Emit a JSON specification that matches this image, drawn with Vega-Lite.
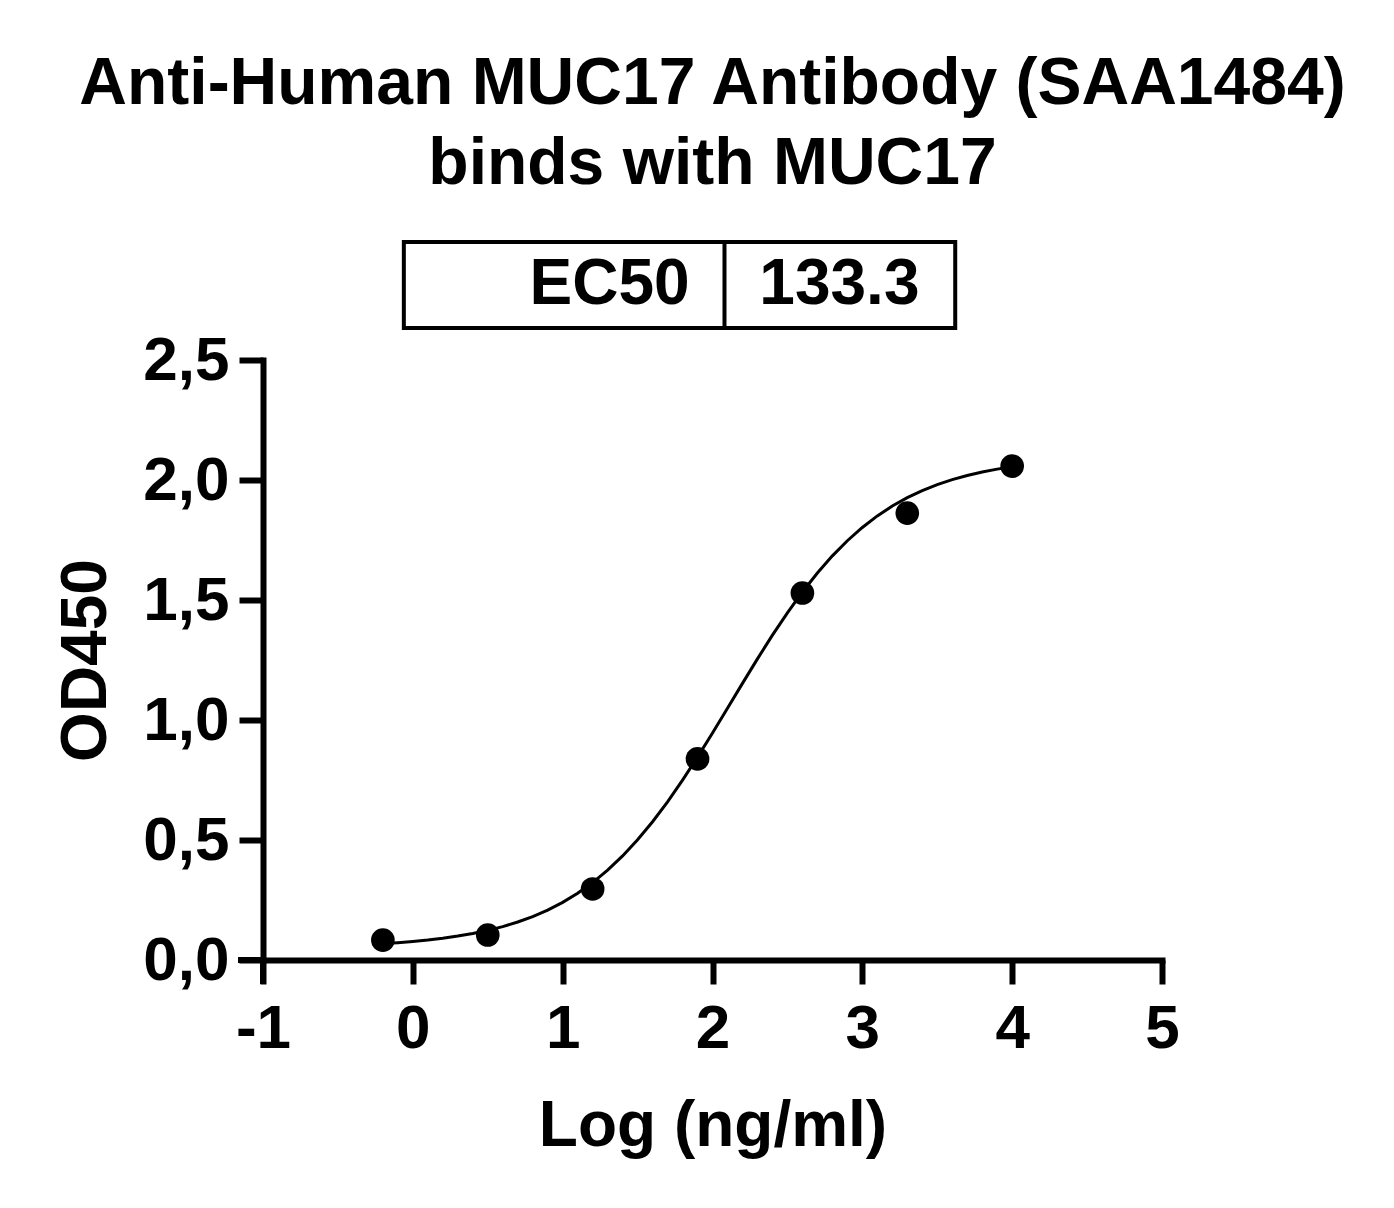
{
  "$schema": "https://vega.github.io/schema/vega-lite/v6.json",
  "width": 899,
  "height": 600,
  "autosize": {"type": "none"},
  "padding": {"left": 263, "top": 360, "right": 232, "bottom": 248},
  "background": "white",
  "title": {
    "text": ["Anti-Human MUC17 Antibody (SAA1484)", "binds with MUC17"],
    "font": "Liberation Sans",
    "fontWeight": "bold",
    "fontSize": 66,
    "lineHeight": 80,
    "color": "black",
    "anchor": "middle",
    "offset": 42
  },
  "config": {
    "view": {"stroke": null},
    "axis": {
      "grid": false,
      "domainColor": "black",
      "domainWidth": 6,
      "domainCap": "square",
      "tickColor": "black",
      "tickWidth": 6,
      "tickSize": 24,
      "labelColor": "black",
      "labelFont": "Liberation Sans",
      "labelFontWeight": "bold",
      "labelFontSize": 62,
      "titleColor": "black",
      "titleFont": "Liberation Sans",
      "titleFontWeight": "bold",
      "titleFontSize": 64
    }
  },
  "datasets": {
    "curve": [
      {"logc": -0.2, "od": 0.0683}, {"logc": -0.1, "od": 0.0723}, {"logc": 0.0, "od": 0.0773},
      {"logc": 0.1, "od": 0.0833}, {"logc": 0.2, "od": 0.0907}, {"logc": 0.3, "od": 0.0996},
      {"logc": 0.4, "od": 0.1104}, {"logc": 0.5, "od": 0.1234}, {"logc": 0.6, "od": 0.1392},
      {"logc": 0.7, "od": 0.1582}, {"logc": 0.8, "od": 0.1809}, {"logc": 0.9, "od": 0.2081},
      {"logc": 1.0, "od": 0.2403}, {"logc": 1.1, "od": 0.2783}, {"logc": 1.2, "od": 0.3227},
      {"logc": 1.3, "od": 0.3743}, {"logc": 1.4, "od": 0.4336}, {"logc": 1.5, "od": 0.5008},
      {"logc": 1.6, "od": 0.576}, {"logc": 1.7, "od": 0.6591}, {"logc": 1.8, "od": 0.7492},
      {"logc": 1.9, "od": 0.8452}, {"logc": 2.0, "od": 0.9459}, {"logc": 2.1, "od": 1.049},
      {"logc": 2.2, "od": 1.1527}, {"logc": 2.3, "od": 1.2548}, {"logc": 2.4, "od": 1.3534},
      {"logc": 2.5, "od": 1.4467}, {"logc": 2.6, "od": 1.5334}, {"logc": 2.7, "od": 1.6125},
      {"logc": 2.8, "od": 1.6839}, {"logc": 2.9, "od": 1.747}, {"logc": 3.0, "od": 1.8023},
      {"logc": 3.1, "od": 1.8503}, {"logc": 3.2, "od": 1.8915}, {"logc": 3.3, "od": 1.9264},
      {"logc": 3.4, "od": 1.9561}, {"logc": 3.5, "od": 1.9809}, {"logc": 3.6, "od": 2.0016},
      {"logc": 3.7, "od": 2.019}, {"logc": 3.8, "od": 2.0334}, {"logc": 3.9, "od": 2.0453},
      {"logc": 4.0, "od": 2.0551}
    ],
    "points": [
      {"logc": -0.2, "od": 0.083},
      {"logc": 0.5, "od": 0.104},
      {"logc": 1.2, "od": 0.296},
      {"logc": 1.9, "od": 0.838},
      {"logc": 2.6, "od": 1.529},
      {"logc": 3.3, "od": 1.862},
      {"logc": 4.0, "od": 2.058}
    ],
    "table": [
      {"label": "EC50", "value": "133.3"}
    ]
  },
  "layer": [
    {
      "data": {"name": "curve"},
      "mark": {"type": "line", "color": "black", "strokeWidth": 3},
      "encoding": {
        "x": {
          "field": "logc", "type": "quantitative",
          "scale": {"domain": [-1, 5], "nice": false, "zero": false},
          "axis": {
            "title": "Log (ng/ml)",
            "values": [-1, 0, 1, 2, 3, 4, 5],
            "labelExpr": "'' + datum.value",
            "labelPadding": 14,
            "titlePadding": 35,
            "labelFlush": false,
            "labelOverlap": false
          }
        },
        "y": {
          "field": "od", "type": "quantitative",
          "scale": {"domain": [0, 2.5], "nice": false},
          "axis": {
            "title": "OD450",
            "values": [0, 0.5, 1, 1.5, 2, 2.5],
            "labelExpr": "replace(format(datum.value, '.1f'), '.', ',')",
            "labelPadding": 10,
            "titlePadding": 24,
            "labelFlush": false,
            "labelOverlap": false
          }
        }
      }
    },
    {
      "data": {"name": "table"},
      "mark": {"type": "rule", "color": "black", "strokeWidth": 6},
      "encoding": {
        "x": {"datum": -1, "type": "quantitative"},
        "y": {"datum": 0, "type": "quantitative"},
        "y2": {"datum": -0.1}
      }
    },
    {
      "data": {"name": "table"},
      "mark": {"type": "rule", "color": "black", "strokeWidth": 6},
      "encoding": {
        "x": {"datum": -1.167, "type": "quantitative"},
        "x2": {"datum": -1},
        "y": {"datum": 0, "type": "quantitative"}
      }
    },
    {
      "data": {"name": "points"},
      "mark": {"type": "circle", "color": "black", "opacity": 1, "size": 560},
      "encoding": {
        "x": {"field": "logc", "type": "quantitative"},
        "y": {"field": "od", "type": "quantitative"}
      }
    },
    {
      "data": {"name": "table"},
      "mark": {"type": "rect", "fill": null, "fillOpacity": 0, "stroke": "black", "strokeWidth": 4},
      "encoding": {
        "x": {"datum": -0.06, "type": "quantitative"},
        "x2": {"datum": 3.62},
        "y": {"datum": 2.633, "type": "quantitative"},
        "y2": {"datum": 2.992}
      }
    },
    {
      "data": {"name": "table"},
      "mark": {"type": "rule", "color": "black", "strokeWidth": 4},
      "encoding": {
        "x": {"datum": 2.08, "type": "quantitative"},
        "y": {"datum": 2.633, "type": "quantitative"},
        "y2": {"datum": 2.992}
      }
    },
    {
      "data": {"name": "table"},
      "mark": {"type": "text", "font": "Liberation Sans", "fontWeight": "bold", "fontSize": 64, "color": "black", "align": "right", "baseline": "middle"},
      "encoding": {
        "x": {"datum": 1.847, "type": "quantitative"},
        "y": {"datum": 2.8125, "type": "quantitative"},
        "text": {"field": "label"}
      }
    },
    {
      "data": {"name": "table"},
      "mark": {"type": "text", "font": "Liberation Sans", "fontWeight": "bold", "fontSize": 64, "color": "black", "align": "center", "baseline": "middle"},
      "encoding": {
        "x": {"datum": 2.847, "type": "quantitative"},
        "y": {"datum": 2.8125, "type": "quantitative"},
        "text": {"field": "value"}
      }
    }
  ]
}
